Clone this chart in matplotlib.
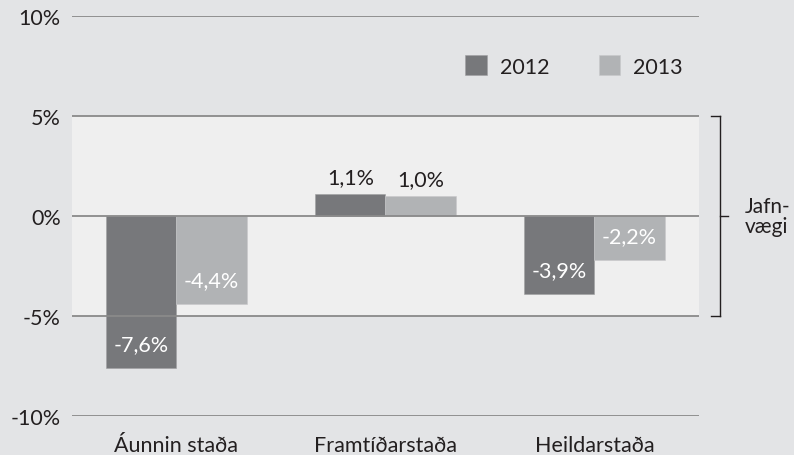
import matplotlib
matplotlib.use('Agg')
import matplotlib.pyplot as plt
import numpy as np

# Data
categories = ['Áunnin staða', 'Framtíðarstaða', 'Heildarstaða']
series_names = ['2012', '2013']
values_2012 = [-7.6, 1.1, -3.9]
values_2013 = [-4.4, 1.0, -2.2]
y_ticks = [-10, -5, 0, 5, 10]
bracket_label = 'Jafn-\nvægi'

DARK = '#77787b'
LIGHT = '#b1b3b5'
BG = '#e3e4e6'
BAND = '#efefef'
GRID = '#8a8a8a'
TEXT = '#231f20'

plt.rcParams['font.family'] = ['Lato', 'DejaVu Sans']
plt.rcParams['font.size'] = 15.5

W, H = 794, 456
fig = plt.figure(figsize=(W / 100, H / 100), dpi=100, facecolor=BG)
ax = fig.add_axes([72 / W, (H - 417) / H, (699 - 72) / W, 400 / H])
ax.set_facecolor(BG)

x = np.arange(len(categories))
bw = 0.335

# light band between -5% and 5%
ax.axhspan(-5, 5, color=BAND, zorder=0, lw=0)

b1 = ax.bar(x - bw / 2, values_2012, bw, color=DARK, edgecolor='#a0a0a2',
            linewidth=0.4, zorder=2, label=series_names[0])
b2 = ax.bar(x + bw / 2, values_2013, bw, color=LIGHT, edgecolor='#c8c8ca',
            linewidth=0.4, zorder=2, label=series_names[1])

for yt in y_ticks:
    ax.axhline(yt, color=GRID, lw=1.3, zorder=3)

def fmt(v):
    return f'{v:.1f}%'.replace('.', ',')

for bars, vals in ((b1, values_2012), (b2, values_2013)):
    for rect, v in zip(bars, vals):
        cx = rect.get_x() + rect.get_width() / 2
        if v >= 0:
            ax.annotate(fmt(v), (cx, v), xytext=(0, 5), textcoords='offset points',
                        ha='center', va='bottom', color=TEXT, zorder=4)
        else:
            ax.text(cx, v + 1.2, fmt(v), ha='center', va='center',
                    color='white', zorder=4)

ax.set_xlim(-0.5, 2.5)
ax.set_ylim(-10, 10)
ax.set_yticks(y_ticks)
ax.set_yticklabels([f'{t}%' for t in y_ticks], color=TEXT)
ax.set_xticks(x)
ax.set_xticklabels(categories, color=TEXT)
ax.tick_params(axis='y', length=0, pad=8)
ax.tick_params(axis='x', length=0, pad=14)
for s in ax.spines.values():
    s.set_visible(False)

leg = ax.legend(handles=[b1, b2], ncol=2, frameon=False, loc='center right',
                bbox_to_anchor=(1.005, 0.875), handlelength=1.0, handleheight=1.0,
                handletextpad=0.6, columnspacing=2.3, labelcolor=TEXT)

# bracket on the right
bx = 720
def fx(px):
    return px / W
def fy(val):
    # convert data y to figure fraction
    return ax.transData.transform((0, val))[1] / H
fig.add_artist(plt.Line2D([fx(bx), fx(bx)], [fy(5), fy(-5)], color=TEXT, lw=1.0))
fig.add_artist(plt.Line2D([fx(711), fx(bx)], [fy(5), fy(5)], color=TEXT, lw=1.0))
fig.add_artist(plt.Line2D([fx(711), fx(bx)], [fy(-5), fy(-5)], color=TEXT, lw=1.0))
fig.add_artist(plt.Line2D([fx(bx), fx(728)], [fy(0), fy(0)], color=TEXT, lw=1.0))
fig.text(fx(745), fy(0), bracket_label, ha='left', va='center', color=TEXT,
         fontsize=15, linespacing=1.05)

fig.savefig('out.png', dpi=100, facecolor=BG)
